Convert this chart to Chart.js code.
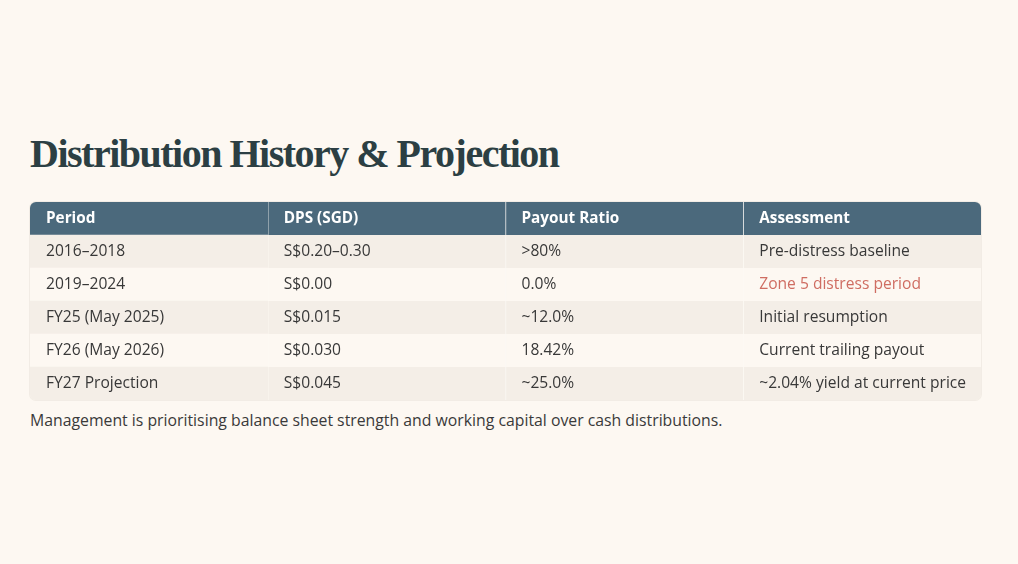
<!DOCTYPE html>
<html>
<head>
<meta charset="utf-8">
<script src="https://cdn.jsdelivr.net/npm/chart.js@4"></script>
<style>
  html, body { margin: 0; padding: 0; background: #fdf8f2; }
  body { width: 1018px; height: 564px; position: relative; overflow: hidden; font-family: "Open Sans", sans-serif; }
  h1 {
    position: absolute; left: 30px; top: 130px; margin: 0;
    font-family: "Liberation Serif", serif; font-weight: bold; font-size: 40px; line-height: 48px;
    color: #2c3f43; letter-spacing: -1.5px; white-space: nowrap;
  }
  #tableBox {
    position: absolute; left: 30px; top: 202px; width: 951px; height: 198px;
    border-radius: 6px; overflow: hidden; box-shadow: 0 0 0 1px rgba(120, 100, 80, 0.08);
  }
  p.note {
    position: absolute; left: 30px; top: 410px; margin: 0;
    font-size: 15.8px; line-height: 20px; color: #3a3a3a; white-space: nowrap;
  }
</style>
</head>
<body>
<h1>Distribution History &amp; Projection</h1>
<div id="tableBox"><canvas id="distTable"></canvas></div>
<p class="note">Management is prioritising balance sheet strength and working capital over cash distributions.</p>

<script>
// Table content
const columns = ['Period', 'DPS (SGD)', 'Payout Ratio', 'Assessment'];
const periods = ['2016–2018', '2019–2024', 'FY25 (May 2025)', 'FY26 (May 2026)', 'FY27 Projection'];
const dps = ['S$0.20–0.30', 'S$0.00', 'S$0.015', 'S$0.030', 'S$0.045'];
const payoutRatio = ['>80%', '0.0%', '~12.0%', '18.42%', '~25.0%'];
const assessment = ['Pre-distress baseline', 'Zone 5 distress period', 'Initial resumption', 'Current trailing payout', '~2.04% yield at current price'];
// rows whose assessment is flagged (red)
const flaggedRows = [1];

const colors = {
    header: '#4b697c',
    headerText: '#ffffff',
    stripe: '#f4eee7',
    plain: '#fdf8f2',
    divider: '#fdfaf6',
    text: '#383838',
    flag: '#cf6d62'
};

// row 0 is the header, then one row per period
const rowLabels = ['header', ...periods];
const cellText = [
    columns,
    ...periods.map((p, i) => [p, dps[i], payoutRatio[i], assessment[i]])
];

function rowColor(r) {
    if (r === 0) return colors.header;
    return r % 2 === 1 ? colors.stripe : colors.plain;
}

// one floating-bar dataset per column, each bar spans [col, col + 1]
const datasets = columns.map((name, c) => ({
    label: name,
    data: rowLabels.map(() => [c, c + 1]),
    backgroundColor: ctx => rowColor(ctx.dataIndex),
    borderColor: colors.divider,
    borderWidth: { left: c > 0 ? 1 : 0, right: 0, top: 0, bottom: 0 },
    borderSkipped: false,
    grouped: false,
    barPercentage: 1,
    categoryPercentage: 1
}));

// Draw cell text at positions taken from the chart scales
const cellTextPlugin = {
    id: 'cellText',
    afterDatasetsDraw(chart) {
        const { ctx, scales: { x, y } } = chart;
        ctx.save();
        ctx.textBaseline = 'middle';
        ctx.textAlign = 'left';
        cellText.forEach((row, r) => {
            const cy = y.getPixelForValue(r);
            row.forEach((txt, c) => {
                const cx = x.getPixelForValue(c) + 16;
                if (r === 0) {
                    ctx.font = 'bold 15.3px "Open Sans", sans-serif';
                    ctx.fillStyle = colors.headerText;
                } else {
                    ctx.font = '15.6px "Open Sans", sans-serif';
                    ctx.fillStyle = (c === 3 && flaggedRows.includes(r - 1)) ? colors.flag : colors.text;
                }
                ctx.fillText(txt, cx, cy);
            });
        });
        ctx.restore();
    }
};

new Chart(document.getElementById('distTable'), {
    type: 'bar',
    data: { labels: rowLabels, datasets: datasets },
    options: {
        indexAxis: 'y',
        responsive: true,
        maintainAspectRatio: false,
        animation: false,
        events: [],
        layout: { padding: 0 },
        plugins: {
            legend: { display: false },
            tooltip: { enabled: false }
        },
        scales: {
            x: { type: 'linear', min: 0, max: columns.length, display: false },
            y: { display: false }
        }
    },
    plugins: [cellTextPlugin]
});
</script>
</body>
</html>
